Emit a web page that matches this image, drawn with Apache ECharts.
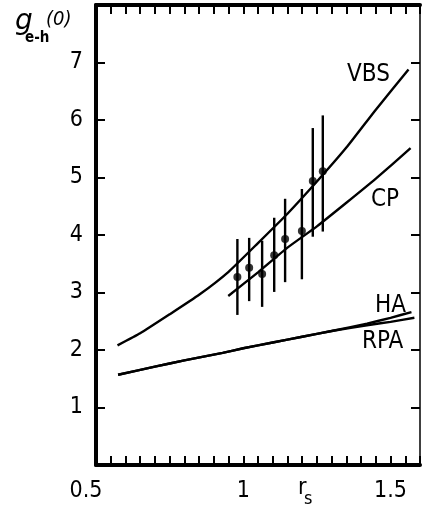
<!DOCTYPE html>
<html>
<head>
<meta charset="utf-8">
<script src="https://cdn.jsdelivr.net/npm/echarts@6/dist/echarts.min.js"></script>
<style>
  html, body { margin: 0; padding: 0; background: #fff; }
  #main { width: 423px; height: 509px; }
</style>
</head>
<body>
<div id="main"></div>
<script>
  // r_s values and g_e-h(0)
  const vbsX = [0.573, 0.65, 0.75, 0.85, 0.95, 1.05, 1.15, 1.25, 1.35, 1.45, 1.561]
  const vbsY = [2.08, 2.29, 2.62, 2.96, 3.36, 3.86, 4.37, 4.93, 5.52, 6.18, 6.88]
  const cpX = [0.949, 1.05, 1.15, 1.25, 1.35, 1.45, 1.568]
  const cpY = [2.94, 3.35, 3.78, 4.15, 4.56, 4.98, 5.51]
  const haX = [0.575, 0.7, 0.8, 0.93, 1.0, 1.1, 1.2, 1.3, 1.42, 1.5, 1.571]
  const haY = [1.57, 1.71, 1.82, 1.95, 2.03, 2.13, 2.23, 2.33, 2.46, 2.56, 2.66]
  const rpaX = [0.575, 0.7, 0.8, 0.93, 1.0, 1.1, 1.2, 1.3, 1.42, 1.5, 1.581]
  const rpaY = [1.57, 1.71, 1.82, 1.95, 2.03, 2.13, 2.23, 2.33, 2.43, 2.49, 2.56]
  // experimental points with error bars
  const expX = [0.980, 1.020, 1.064, 1.105, 1.142, 1.199, 1.236, 1.270]
  const expY = [3.27, 3.43, 3.32, 3.65, 3.93, 4.07, 4.94, 5.11]
  const expLo = [2.61, 2.85, 2.75, 3.01, 3.18, 3.23, 3.97, 4.06]
  const expHi = [3.93, 3.95, 3.90, 4.30, 4.63, 4.80, 5.86, 6.08]
  const xTickLabels = ['0.5', '1', '1.5']
  const yTickLabels = ['1', '2', '3', '4', '5', '6', '7']

  const FONT = '"DejaVu Sans Condensed", "Liberation Sans Narrow", sans-serif'

  const zip = (xs, ys) => xs.map((x, i) => [x, ys[i]])

  const lineSeries = (name, xs, ys) => ({
    name: name,
    type: 'line',
    data: zip(xs, ys),
    smooth: 0.15,
    showSymbol: false,
    lineStyle: { color: '#000', width: 2.4 },
    silent: true
  })

  const myChart = echarts.init(document.getElementById('main'))

  const fmtX = (v) => {
    const s = xTickLabels.find((t) => Math.abs(parseFloat(t) - v) < 1e-6)
    if (!s) return ''
    return s === '0.5' ? '{a|' + s + '}' : s
  }
  const fmtY = (v) => {
    const s = yTickLabels.find((t) => Math.abs(parseFloat(t) - v) < 1e-6)
    return s || ''
  }

  const axisX = (pos, show) => ({
    type: 'value',
    position: pos,
    min: 0.5,
    max: 1.6,
    interval: 0.05,
    splitLine: { show: false },
    axisLine: { onZero: false, lineStyle: { color: '#000', width: 4 } },
    axisTick: { inside: true, length: 9, lineStyle: { color: '#000', width: 2 } },
    axisLabel: {
      show: show,
      formatter: fmtX,
      margin: 15,
      color: '#000',
      fontFamily: FONT,
      fontSize: 23,
      showMinLabel: true,
      showMaxLabel: true,
      rich: { a: { fontFamily: FONT, fontSize: 23, color: '#000', padding: [0, 20, 0, 0] } }
    }
  })

  const axisY = (pos, show, w) => ({
    type: 'value',
    position: pos,
    min: 0,
    max: 8,
    interval: 1,
    splitLine: { show: false },
    axisLine: { onZero: false, lineStyle: { color: '#000', width: w } },
    axisTick: { inside: true, length: 9, lineStyle: { color: '#000', width: 2 } },
    axisLabel: {
      show: show,
      formatter: fmtY,
      margin: 13,
      color: '#000',
      fontFamily: FONT,
      fontSize: 23
    }
  })

  myChart.setOption({
    animation: false,
    backgroundColor: '#fff',
    grid: { left: 96, right: 1, top: 5, bottom: 44 },
    xAxis: [axisX('bottom', true), axisX('top', false)],
    yAxis: [axisY('left', true, 4), axisY('right', false, 1.5)],
    graphic: [
      { type: 'text', x: 15, y: 8, style: { text: 'g', font: 'italic 28px "DejaVu Sans", sans-serif', fill: '#000' } },
      { type: 'text', x: 25, y: 31, style: { text: 'e-h', font: 'bold 15px ' + FONT, fill: '#000' } },
      { type: 'text', x: 46, y: 10, style: { text: '(0)', font: 'italic 20px ' + FONT, fill: '#000' } },
      { type: 'text', x: 298, y: 477, style: { text: 'r', font: '23px ' + FONT, fill: '#000' } },
      { type: 'text', x: 304, y: 490, style: { text: 's', font: '18px ' + FONT, fill: '#000' } },
      { type: 'text', x: 347, y: 63, style: { text: 'VBS', font: '24px ' + FONT, fill: '#000' } },
      { type: 'text', x: 371, y: 188, style: { text: 'CP', font: '24px ' + FONT, fill: '#000' } },
      { type: 'text', x: 375, y: 294, style: { text: 'HA', font: '24px ' + FONT, fill: '#000' } },
      { type: 'text', x: 362, y: 330, style: { text: 'RPA', font: '24px ' + FONT, fill: '#000' } }
    ],
    series: [
      lineSeries('VBS', vbsX, vbsY),
      lineSeries('CP', cpX, cpY),
      lineSeries('HA', haX, haY),
      lineSeries('RPA', rpaX, rpaY),
      {
        name: 'errors',
        type: 'custom',
        silent: true,
        data: expX.map((x, i) => [x, expLo[i], expHi[i]]),
        renderItem: (params, api) => {
          const lo = api.coord([api.value(0), api.value(1)])
          const hi = api.coord([api.value(0), api.value(2)])
          return {
            type: 'line',
            shape: { x1: lo[0], y1: lo[1], x2: hi[0], y2: hi[1] },
            style: { stroke: '#000', lineWidth: 2.4 }
          }
        }
      },
      {
        name: 'exp',
        type: 'scatter',
        silent: true,
        data: zip(expX, expY),
        symbol: 'circle',
        symbolSize: 8,
        itemStyle: { color: '#000' }
      }
    ]
  })
</script>
</body>
</html>
